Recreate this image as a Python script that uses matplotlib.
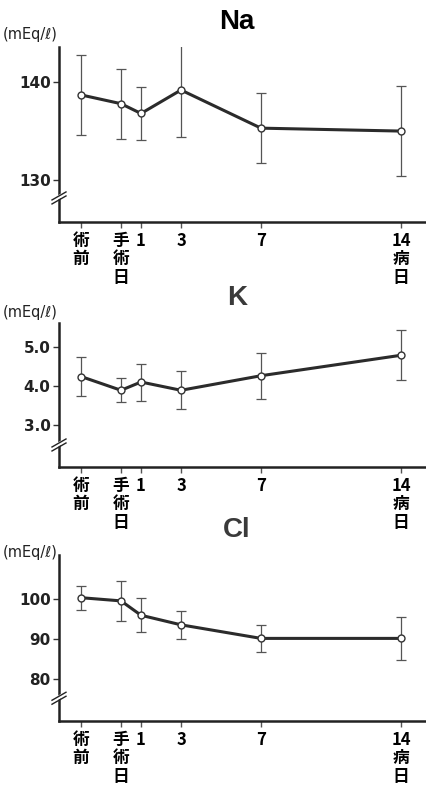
import matplotlib
matplotlib.use("Agg")
import matplotlib.pyplot as plt

plt.rcParams['font.family'] = ['DejaVu Sans']

x_days = [-2, 0, 1, 3, 7, 14]
x_labels = ["術\n前", "手\n術\n日", "1", "3", "7", "14\n病\n日"]

na_mean = [138.7, 137.8, 136.8, 139.2, 135.3, 135.0]
na_sd = [4.1, 3.6, 2.7, 4.8, 3.6, 4.6]
k_mean = [4.24, 3.89, 4.10, 3.89, 4.26, 4.78]
k_sd = [0.50, 0.31, 0.47, 0.48, 0.59, 0.63]
cl_mean = [100.4, 99.6, 96.0, 93.6, 90.2, 90.2]
cl_sd = [3.0, 5.0, 4.3, 3.5, 3.4, 5.4]

na_ticks = [130, 140]
k_ticks = [3.0, 4.0, 5.0]
cl_ticks = [80, 90, 100]

W, H = 427, 789
fig = plt.figure(figsize=(W / 100, H / 100), dpi=100)

panels = [
    # title, mean, sd, ticks, ticklabels, ylim, top_px, bottom_px, break_frac, title colour, unit_y_px
    ("Na", na_mean, na_sd, na_ticks, ["130", "140"], (125.7, 143.6), 47, 222, 0.126, '#000000', 35),
    ("K", k_mean, k_sd, k_ticks, ["3.0", "4.0", "5.0"], (1.94, 5.6), 323, 467, 0.139, '#3a3a3a', 313),
    ("Cl", cl_mean, cl_sd, cl_ticks, ["80", "90", "100"], (69.5, 111.1), 555, 721, 0.125, '#3a3a3a', 553),
]

left_px = 59
line_col = '#2b2b2b'

for (title, mean, sd, ticks, tlabels, ylim, top_px, bot_px, brk, tcol, unit_y) in panels:
    ax = fig.add_axes([left_px / W, 1 - bot_px / H, 1 - left_px / W, (bot_px - top_px) / H])
    ax.set_xlim(-3.1, 15.3)
    ax.set_ylim(*ylim)
    ax.errorbar(x_days, mean, yerr=sd, fmt='none', ecolor='#555555', elinewidth=0.9,
                capsize=3.5, capthick=0.9, zorder=2)
    ax.plot(x_days, mean, color=line_col, lw=2.2, zorder=3)
    ax.plot(x_days, mean, 'o', ms=5, mfc='white', mec='#333333', mew=1.0, zorder=4)

    for s in ['top', 'right']:
        ax.spines[s].set_visible(False)
    for s in ['left', 'bottom']:
        ax.spines[s].set_linewidth(1.8)
        ax.spines[s].set_color('#222222')

    ax.set_yticks(ticks)
    ax.set_yticklabels(tlabels, fontsize=11, color='#222222', fontweight='semibold')
    ax.tick_params(axis='y', direction='out', length=4, width=1.0, pad=2, colors='#333333')
    ax.tick_params(axis='y', labelcolor='#222222')

    ax.set_xticks(x_days)
    ax.set_xticklabels(x_labels, fontsize=12, fontweight='bold',
                       family=['Noto Sans CJK JP', 'DejaVu Sans'], linespacing=1.05)
    ax.tick_params(axis='x', direction='out', length=4, width=1.0, pad=3, colors='#555555')
    ax.tick_params(axis='x', labelcolor='black')

    # axis break mark
    ah = (bot_px - top_px)
    aw = W - left_px
    dx = 7 / aw
    dy = 4 / ah
    gap = 4 / ah
    ax.fill_between([-dx * 0.6, dx * 0.6], [brk - gap * 0.2, brk + gap * 0.2 + dy * 0.8],
                    [brk + gap * 0.9, brk + gap * 1.3 + dy * 0.8],
                    transform=ax.transAxes, color='white', clip_on=False, zorder=5, lw=0)
    for off in (0, gap):
        ax.plot([-dx, dx], [brk - dy + off, brk + dy + off], transform=ax.transAxes,
                color='#222222', lw=1.0, clip_on=False, zorder=6)

    fig.text(237 / W, 1 - (top_px - 25) / H, title, fontsize=20, fontweight='bold',
             family=['Liberation Sans', 'DejaVu Sans'], ha='center', va='center', color=tcol)
    fig.text(3 / W, 1 - unit_y / H, "(mEq/ℓ)", fontsize=10.5, ha='left', va='center',
             color='#222222', fontweight='normal')

fig.savefig("out.png", dpi=100)
